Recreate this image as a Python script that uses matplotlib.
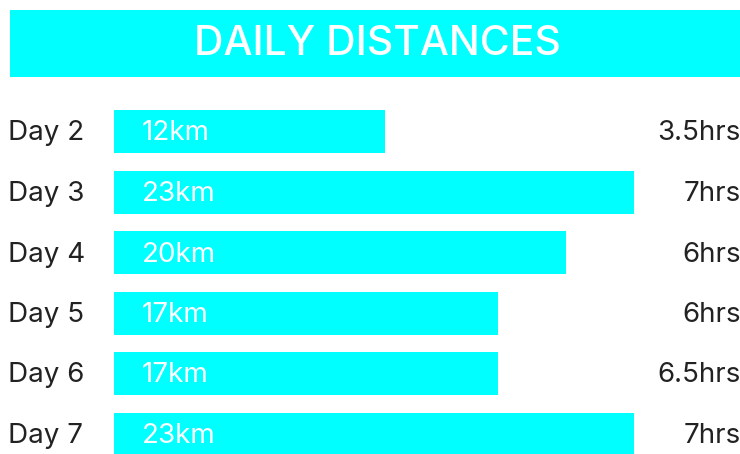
import matplotlib
matplotlib.use("Agg")
import matplotlib.pyplot as plt
from matplotlib.patches import Rectangle

days = ["Day 2", "Day 3", "Day 4", "Day 5", "Day 6", "Day 7"]
distances = [12, 23, 20, 17, 17, 23]
hours = ["3.5hrs", "7hrs", "6hrs", "6hrs", "6.5hrs", "7hrs"]

CYAN = "#00FFFF"
W, H = 740, 454

plt.rcParams["font.family"] = ["Inter", "DejaVu Sans"]

fig = plt.figure(figsize=(W / 100, H / 100), dpi=100)

# title banner
fig.patches.append(Rectangle((10 / W, 1 - 77 / H), 1, 67 / H, transform=fig.transFigure,
                             facecolor=CYAN, edgecolor="none"))
fig.text(377 / W, 1 - 55 / H, "DAILY DISTANCES", color="white", fontsize=29.5,
         fontweight="medium", ha="center", va="baseline")

# bars: axes spans from x=114px to right edge, full height
ax = fig.add_axes([114 / W, 0, 1 - 114 / W, 1])
px_per_km = 22.6
ax.set_xlim(0, (W - 114) / px_per_km)
row = 60.5
ax.set_ylim((H - 131.5) / row, -131.5 / row)
ax.axis("off")

ypos = list(range(len(days)))
ax.barh(ypos, distances, height=43 / row, color=CYAN, left=0)

off = 9 / row  # baseline offset below bar centre
for y, d, day, hr in zip(ypos, distances, days, hours):
    ax.text(28 / px_per_km, y + off, f"{d}km", color="white", fontsize=20,
            ha="left", va="baseline")
    ax.text(-106 / px_per_km, y + off, day, color="#222222", fontsize=20,
            ha="left", va="baseline", clip_on=False)
    ax.text((W - 114 + 1) / px_per_km, y + off, hr, color="#222222", fontsize=20,
            ha="right", va="baseline", clip_on=False)

fig.savefig("out.png", dpi=100)
